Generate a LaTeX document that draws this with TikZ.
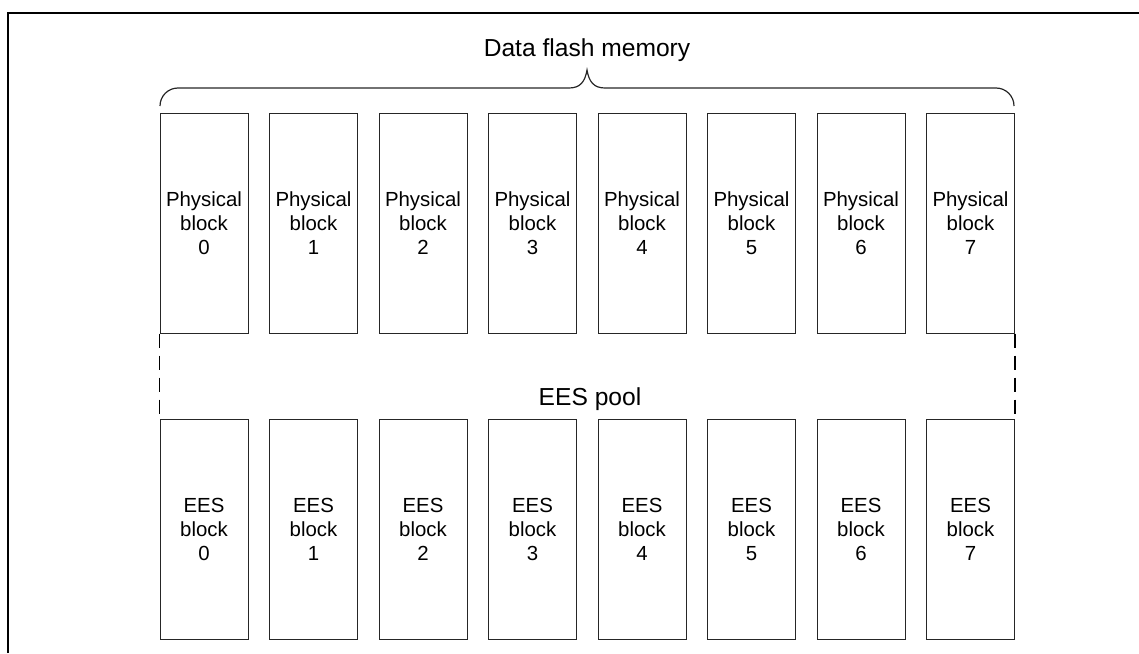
\documentclass[tikz,border=0pt]{standalone}
\usepackage{fontspec}
\setmainfont{Liberation Sans}
\begin{document}
\begin{tikzpicture}[x = 0.5pt, y = -0.5pt,
	blockbox/.style = {draw = black!85, line width = 0.5pt, minimum width = 44pt, minimum height = 110pt, inner sep = 0pt, align = center, font = \fontsize{10.2}{12}\selectfont},
	pooledge/.style = {draw = black, line width = 0.8pt, dash pattern = on 7pt off 4pt},
	bigtext/.style = {font = \fontsize{12.3}{14}\selectfont, anchor = base}]
	%	page setup
	
	\def\xmax{1139}
	\def\ymax{653}
	
	\useasboundingbox (0, 0) rectangle (\xmax, \ymax);
	\draw[line width = 1.2pt] (8, \ymax) -- (8, 13) -- (\xmax, 13);
	
	%	blocks
	\foreach \i in {0, ..., 7} {
		\node[blockbox] (phys\i) at (204 + 109.5*\i, 223) {Physical\\block\\\i};
		\node[blockbox] (ees\i) at (204 + 109.5*\i, 529.5) {EES\\block\\\i};
	}
	
	%	pool edges
	\draw[pooledge] (phys0.south west) -- (ees0.north west);
	\draw[pooledge] (phys7.south east) -- (ees7.north east);
	\node[bigtext] (pool) at (590, 405) {EES pool};
	
	%	brace
	\draw[black!85, line width = 0.6pt] (160, 106) arc (180:270:18) -- (569, 88)
		.. controls (580, 88) and (585, 82) .. (587, 70)
		.. controls (589, 82) and (594, 88) .. (605, 88) -- (996, 88) arc (270:360:18);
	\node[bigtext] (title) at (587, 56) {Data flash memory};
\end{tikzpicture}
\end{document}
